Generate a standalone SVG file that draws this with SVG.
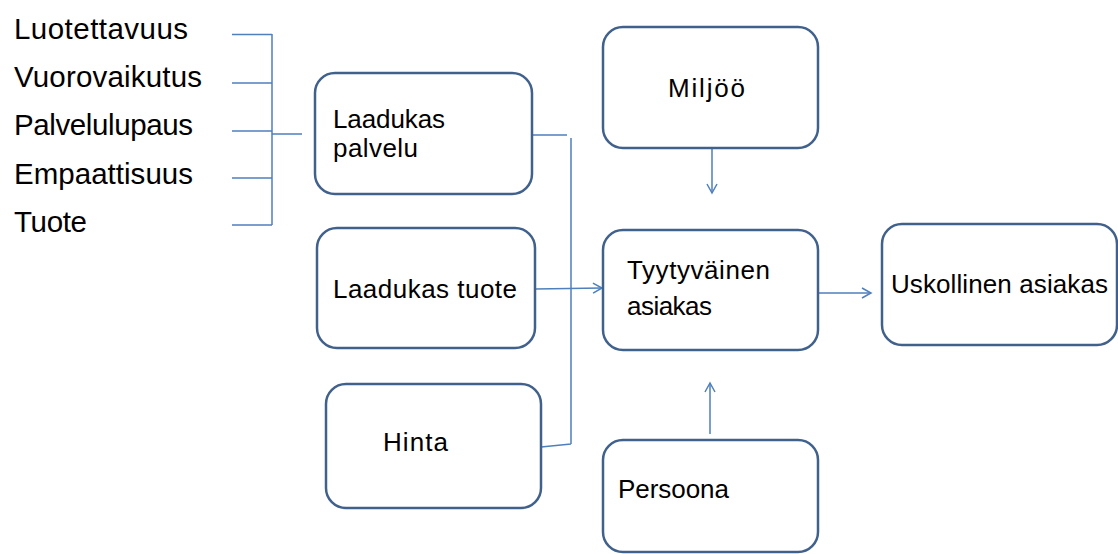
<svg xmlns="http://www.w3.org/2000/svg" width="1118" height="554" viewBox="0 0 1118 554">
<style>
.box{fill:#fff;stroke:#41618D;stroke-width:2.5}
.t{font-family:"Liberation Sans",Arial,sans-serif;font-size:26px;fill:#000}
.big{font-family:"Liberation Sans",Arial,sans-serif;font-size:29.5px;fill:#000}
.c{fill:none;stroke:#4F7FBD;stroke-width:1.5}
</style>
<defs>
<marker id="ah" markerWidth="12" markerHeight="12" refX="10" refY="6" orient="auto" markerUnits="userSpaceOnUse">
<path d="M1,1 L10,6 L1,11" fill="none" stroke="#4F7FBD" stroke-width="1.5"/>
</marker>
</defs>
<rect width="1118" height="554" fill="#fff"/>
<g id="labels">
<text class="big" x="14" y="39" textLength="174" lengthAdjust="spacing">Luotettavuus</text>
<text class="big" x="14" y="87" textLength="188" lengthAdjust="spacing">Vuorovaikutus</text>
<text class="big" x="14" y="135" textLength="179" lengthAdjust="spacing">Palvelulupaus</text>
<text class="big" x="14" y="184" textLength="179" lengthAdjust="spacing">Empaattisuus</text>
<text class="big" x="14" y="232" textLength="73" lengthAdjust="spacing">Tuote</text>
</g>
<g id="connectors">
<path class="c" d="M232,34.5H272M232,83H272M232,131H272M232,178H272M232,225H272M272,34V225M272,134H302"/>
<path class="c" d="M532,135H567M571,138V444M541,447L571,444"/>
<path class="c" d="M535,289L602,288" marker-end="url(#ah)"/>
<path class="c" d="M712,148V193" marker-end="url(#ah)"/>
<path class="c" d="M818,293H871" marker-end="url(#ah)"/>
<path class="c" d="M710,434V383" marker-end="url(#ah)"/>
</g>
<g id="laadukas-palvelu">
<rect class="box" x="315" y="73" width="217" height="121" rx="20"/>
<text class="t" x="333" y="128" textLength="112" lengthAdjust="spacing">Laadukas</text>
<text class="t" x="333" y="157" textLength="85" lengthAdjust="spacing">palvelu</text>
</g>
<g id="laadukas-tuote">
<rect class="box" x="317" y="228" width="218" height="120" rx="20"/>
<text class="t" x="333" y="298" textLength="184" lengthAdjust="spacing">Laadukas tuote</text>
</g>
<g id="hinta">
<rect class="box" x="326" y="384" width="215" height="124" rx="20"/>
<text class="t" x="383" y="451" textLength="65" lengthAdjust="spacing">Hinta</text>
</g>
<g id="miljoo">
<rect class="box" x="603" y="27" width="215" height="121" rx="20"/>
<text class="t" x="668" y="97" textLength="77" lengthAdjust="spacing">Miljöö</text>
</g>
<g id="tyytyvainen">
<rect class="box" x="603" y="230" width="215" height="120" rx="20"/>
<text class="t" x="627" y="279" textLength="143" lengthAdjust="spacing">Tyytyväinen</text>
<text class="t" x="627" y="315" textLength="85" lengthAdjust="spacing">asiakas</text>
</g>
<g id="uskollinen">
<rect class="box" x="882" y="224" width="235" height="121" rx="20"/>
<text class="t" x="891" y="293" textLength="217" lengthAdjust="spacing">Uskollinen asiakas</text>
</g>
<g id="persoona">
<rect class="box" x="603" y="440" width="215" height="112" rx="20"/>
<text class="t" x="618" y="498" textLength="111" lengthAdjust="spacing">Persoona</text>
</g>
</svg>
